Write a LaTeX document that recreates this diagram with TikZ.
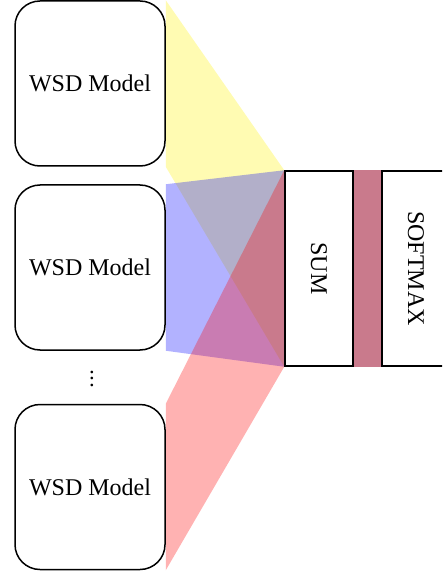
\documentclass[tikz,border=0pt]{standalone}
\usepackage{fontspec}
\setmainfont{Liberation Serif}
\usetikzlibrary{backgrounds}
\begin{document}
\begin{tikzpicture}[x=1pt,y=1pt,
  model/.style={draw,line width=1.5pt,rounded corners=25pt,minimum width=150pt,minimum height=165pt,inner sep=0pt,font=\fontsize{24}{28}\selectfont},
  layerbox/.style={draw,line width=1.5pt,fill=white,minimum width=68pt,minimum height=195pt,inner sep=0pt,font=\fontsize{24}{28}\selectfont},
  band/.style={opacity=0.3}]
\useasboundingbox (0,0) rectangle (442,-577);
\clip (0,0) rectangle (442,-577);
\node[model] (m1) at (90,-83.5) {WSD Model};
\node[model] (m2) at (90,-267.5) {WSD Model};
\node[model] (m3) at (90,-487) {WSD Model};
\node[font=\fontsize{14}{16}\selectfont,inner sep=0pt] (dots) at (92,-374) {\scalebox{1.6}{$\vdots$}};
\node[layerbox] (sum) at (319,-268.5) {\rotatebox{-90}{SUM}};
\node[layerbox] (soft) at (416,-268.5) {\rotatebox{-90}{SOFTMAX}};
\begin{scope}[on background layer]
\fill[band,yellow] (m1.north east) -- (sum.north west) -- (soft.north west) -- (soft.south west) -- (sum.south west) -- (m1.south east) -- cycle;
\fill[band,blue] (m2.north east) -- (sum.north west) -- (soft.north west) -- (soft.south west) -- (sum.south west) -- (m2.south east) -- cycle;
\fill[band,red] (m3.north east) -- (sum.north west) -- (soft.north west) -- (soft.south west) -- (sum.south west) -- (m3.south east) -- cycle;
\end{scope}
\end{tikzpicture}
\end{document}
